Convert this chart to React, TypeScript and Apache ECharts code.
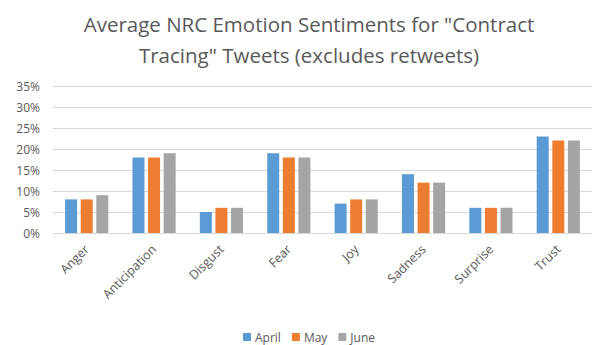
import React, { useEffect, useRef } from "react";
import * as echarts from "echarts";

const categories = ["Anger", "Anticipation", "Disgust", "Fear", "Joy", "Sadness", "Surprise", "Trust"];
const april = [8, 18, 5, 19, 7, 14, 6, 23];
const may = [8, 18, 6, 18, 8, 12, 6, 22];
const june = [9, 19, 6, 18, 8, 12, 6, 22];
const seriesNames = ["April", "May", "June"];
const colors = ["#5B9BD5", "#ED7D31", "#A5A5A5"];
const titleText = 'Average NRC Emotion Sentiments for "Contract\nTracing" Tweets (excludes retweets)';

export default function App() {
  const ref = useRef<HTMLDivElement>(null);
  useEffect(() => {
    if (!ref.current) return;
    const chart = echarts.init(ref.current, undefined, { renderer: "svg" });
    const font = "'Open Sans', 'Noto Sans', sans-serif";
    const data = [april, may, june];
    chart.setOption({
      animation: false,
      backgroundColor: "#ffffff",
      title: {
        text: titleText,
        left: 304,
        textAlign: "center",
        top: 3,
        textStyle: { fontFamily: font, fontSize: 20.5, fontWeight: "normal", color: "#595959", lineHeight: 31 },
      },
      legend: {
        top: 326,
        left: 238,
        itemWidth: 8,
        itemHeight: 8,
        itemGap: 11,
        icon: "rect",
        textStyle: { fontFamily: font, fontSize: 12, color: "#595959", padding: [0, 0, 0, -1] },
        data: seriesNames,
      },
      grid: { left: 53, right: 5, top: 86, bottom: 112, containLabel: false },
      xAxis: {
        type: "category",
        data: categories,
        axisLine: { lineStyle: { color: "#D9D9D9" } },
        axisTick: { show: false },
        axisLabel: { rotate: 45, color: "#595959", fontFamily: font, fontSize: 12.5, margin: 14, interval: 0 },
      },
      yAxis: {
        type: "value",
        min: 0,
        max: 35,
        interval: 5,
        axisLine: { show: false },
        axisTick: { show: false },
        axisLabel: { formatter: "{value}%", color: "#595959", fontFamily: font, fontSize: 12, margin: 13 },
        splitLine: { lineStyle: { color: "#D9D9D9" } },
      },
      series: seriesNames.map((name, i) => ({
        name,
        type: "bar",
        data: data[i],
        barWidth: 12,
        barGap: "30%",
        itemStyle: { color: colors[i] },
      })),
    });
    return () => chart.dispose();
  }, []);
  return <div ref={ref} style={{ width: 597, height: 345, position: "absolute", left: 0, top: 0 }} />;
}
